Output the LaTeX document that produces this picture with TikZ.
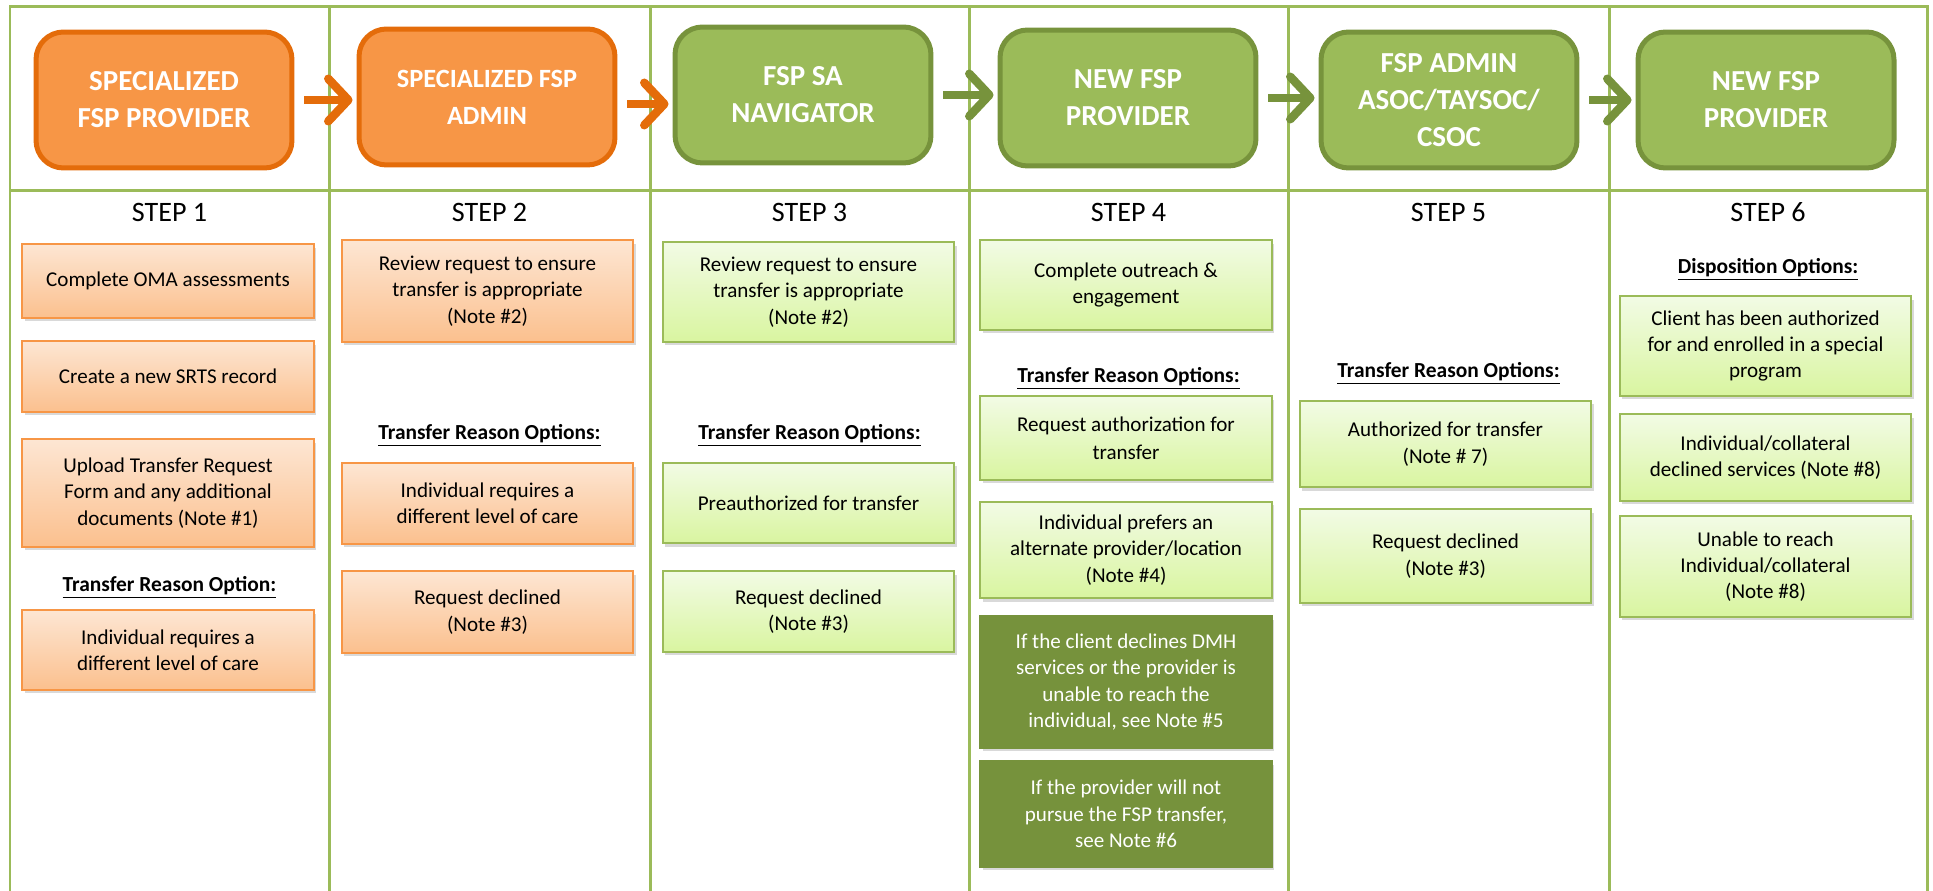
\documentclass[tikz,border=0pt]{standalone}
\usepackage{fontspec}
\setmainfont{Carlito}
\usetikzlibrary{arrows.meta}
\usetikzlibrary{shadows}

\definecolor{gridgreen}{HTML}{9BBB59}
\definecolor{hdrorange}{HTML}{F79646}
\definecolor{hdrorangeline}{HTML}{E46C0A}
\definecolor{hdrgreen}{HTML}{9BBB59}
\definecolor{hdrgreenline}{HTML}{77933C}
\definecolor{peachtop}{HTML}{FDE6D3}
\definecolor{peachbot}{HTML}{FBC08E}
\definecolor{limetop}{HTML}{F2FBE5}
\definecolor{limebot}{HTML}{D9F5A0}
\definecolor{olive}{HTML}{76923C}

\tikzset{
  hdr/.style={rounded corners=0.55cm, line width=0.1cm, minimum width=5.12cm, minimum height=2.72cm,
    align=center, text=white, font=\fontsize{16.5}{21}\selectfont\bfseries},
  hdrO/.style={hdr, fill=hdrorange, draw=hdrorangeline},
  hdrG/.style={hdr, fill=hdrgreen, draw=hdrgreenline},
  card/.style={minimum width=5.84cm, inner sep=0pt, align=center, line width=0.04cm,
    font=\fontsize{12}{15}\selectfont,
    drop shadow={shadow xshift=0.05cm, shadow yshift=-0.07cm, opacity=0.3}},
  cardO/.style={card, draw=hdrorange, top color=peachtop, bottom color=peachbot},
  cardG/.style={card, draw=gridgreen, top color=limetop, bottom color=limebot},
  cardD/.style={card, draw=olive, fill=olive, text=white},
  steplabel/.style={font=\fontsize{16}{19}\selectfont},
  optlabel/.style={font=\fontsize{12.2}{14}\selectfont\bfseries},
  flow/.style={line width=0.17cm, -{Straight Barb[length=0.4cm, width=0.85cm, round]},
    shorten <=0.2cm, shorten >=0.08cm},
}

\begin{document}
\begin{tikzpicture}[x=0.02cm, y=-0.02cm]
	\useasboundingbox (0,0) rectangle (1933,891);

	% table grid
	\draw[gridgreen, line width=0.06cm] (10,891) -- (10,7) -- (1927,7) -- (1927,891);
	\draw[gridgreen, line width=0.06cm] (10,191) -- (1927,191);
	\foreach \x in {329,650,969,1288,1609}{
		\draw[gridgreen, line width=0.06cm] (\x,7) -- (\x,891);
	}

	% header boxes
	\draw (164,100) node[hdrO] (h1) {SPECIALIZED\\FSP PROVIDER};
	\draw (487,97) node[hdrO, font=\fontsize{15}{21}\selectfont\bfseries] (h2) {SPECIALIZED FSP\\ADMIN};
	\draw (803,95) node[hdrG] (h3) {FSP SA\\NAVIGATOR};
	\draw (1128,98) node[hdrG] (h4) {NEW FSP\\PROVIDER};
	\draw (1449,100) node[hdrG] (h5) {FSP ADMIN\\ASOC/TAYSOC/\\CSOC};
	\draw (1766,100) node[hdrG] (h6) {NEW FSP\\PROVIDER};

	\draw[flow, hdrorangeline] (h1.east) -- (h2.west |- h1.east);
	\draw[flow, hdrorangeline] ([yshift=-0.14cm]h2.east) -- ([yshift=-0.14cm]h2.east -| h3.west);
	\foreach \a/\b in {3/4,4/5,5/6}{
		\draw[flow, hdrgreenline] (h\a.east) -- (h\b.west |- h\a.east);
	}

	% step titles
	\foreach \col/\x in {1/169.5,2/489.5,3/809.5,4/1128.5,5/1448.5,6/1768}{
		\draw (\x,212) node[steplabel] (step\col) {STEP \col};
	}

	% step 1
	\draw (168,281) node[cardO, minimum height=1.48cm] (b11) {Complete OMA assessments};
	\draw (168,376.5) node[cardO, minimum height=1.42cm] (b12) {Create a new SRTS record};
	\draw (168,493) node[cardO, minimum height=2.16cm] (b13) {Upload Transfer Request\\Form and any additional\\documents (Note \#1)};
	\draw (169.5,587) node[optlabel] (opt1) {\underline{Transfer Reason Option:}};
	\draw (168,650) node[cardO, minimum height=1.6cm] (b14) {Individual requires a\\different level of care};

	% step 2
	\draw (487.5,291) node[cardO, minimum height=2.04cm] (b21) {Review request to ensure\\transfer is appropriate\\(Note \#2)};
	\draw (489.5,435) node[optlabel] (opt2) {\underline{Transfer Reason Options:}};
	\draw (487.5,503.5) node[cardO, minimum height=1.62cm] (b22) {Individual requires a\\different level of care};
	\draw (487.5,612) node[cardO, minimum height=1.64cm] (b23) {Request declined\\(Note \#3)};

	% step 3
	\draw (808.5,292) node[cardG, minimum height=2.0cm] (b31) {Review request to ensure\\transfer is appropriate\\(Note \#2)};
	\draw (809.5,435) node[optlabel] (opt3) {\underline{Transfer Reason Options:}};
	\draw (808.5,503) node[cardG, minimum height=1.62cm] (b32) {Preauthorized for transfer};
	\draw (808.5,611.5) node[cardG, minimum height=1.62cm] (b33) {Request declined\\(Note \#3)};

	% step 4
	\draw (1126,285) node[cardG, minimum height=1.8cm] (b41) {Complete outreach \&\\engagement};
	\draw (1128.5,378) node[optlabel] (opt4) {\underline{Transfer Reason Options:}};
	\draw (1126,438) node[cardG, font=\fontsize{12}{16}\selectfont, minimum height=1.68cm] (b42) {Request authorization for\\transfer};
	\draw (1126,550) node[cardG, minimum height=1.93cm] (b43) {Individual prefers an\\alternate provider/location\\(Note \#4)};
	\draw (1126,682) node[cardD, minimum height=2.64cm] (b44) {If the client declines DMH\\services or the provider is\\unable to reach the\\individual, see Note \#5};
	\draw (1126,814) node[cardD, minimum height=2.12cm] (b45) {If the provider will not\\pursue the FSP transfer,\\see Note \#6};

	% step 5
	\draw (1448.5,373) node[optlabel] (opt5) {\underline{Transfer Reason Options:}};
	\draw (1445.5,444) node[cardG, minimum height=1.74cm] (b51) {Authorized for transfer\\(Note \# 7)};
	\draw (1445.5,556) node[cardG, minimum height=1.88cm] (b52) {Request declined\\(Note \#3)};

	% step 6
	\draw (1768,269) node[optlabel] (opt6) {\underline{Disposition Options:}};
	\draw (1765.5,346) node[cardG, minimum height=2.0cm] (b61) {Client has been authorized\\for and enrolled in a special\\program};
	\draw (1765.5,457.5) node[cardG, minimum height=1.74cm] (b62) {Individual/collateral\\declined services (Note \#8)};
	\draw (1765.5,566.5) node[cardG, minimum height=2.02cm] (b63) {Unable to reach\\Individual/collateral\\(Note \#8)};

\end{tikzpicture}
\end{document}
